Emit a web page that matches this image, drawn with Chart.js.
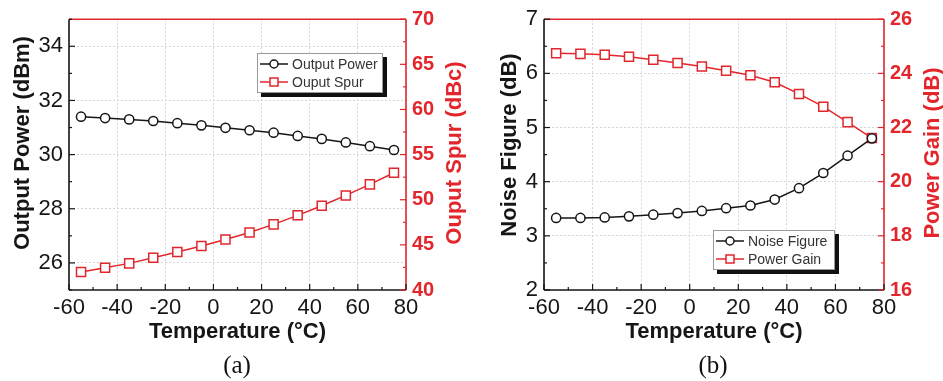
<!DOCTYPE html>
<html>
<head>
<meta charset="UTF-8">
<title>Temperature sweep</title>
<script src="https://cdn.jsdelivr.net/npm/chart.js"></script>
<style>
  body { margin: 0; background: #fff; width: 943px; height: 381px; position: relative; overflow: hidden;
         font-family: 'Liberation Sans', Arial, sans-serif; }
  canvas { position: absolute; top: 0; }
  #ca { left: 0; }
  #cb { left: 470px; }
  .cap { position: absolute; top: 352px; line-height: 1; font-size: 25px; color: #111;
         font-family: 'Liberation Serif', 'Times New Roman', serif; transform: translateX(-50%); }
  .legend { position: absolute; background: #fff; border: 1px solid #999; box-shadow: 4px 4px 0 #111;
            font-size: 14px; color: #333; box-sizing: border-box; padding: 1px 1px; white-space: nowrap; }
  .legend div { display: flex; align-items: center; height: 18px; }
  .legend svg { margin-right: 3px; flex: none; }
</style>
</head>
<body>

<canvas id="ca" width="470" height="381"></canvas>
<canvas id="cb" width="473" height="381"></canvas>
<div class="cap" style="left:237px">(a)</div>
<div class="cap" style="left:713px">(b)</div>
<div class="legend" id="lega" style="left:257px;top:53px;width:126px;height:40px"></div>
<div class="legend" id="legb" style="left:713px;top:230px;width:122px;height:40px"></div>

<script>
  // data
  const temps = [-55, -45, -35, -25, -15, -5, 5, 15, 25, 35, 45, 55, 65, 75];
  const outputPower = [31.40, 31.35, 31.30, 31.24, 31.16, 31.08, 30.99, 30.90, 30.81, 30.69, 30.58, 30.45, 30.31, 30.17];
  const outputSpur = [42.0, 42.47, 42.95, 43.58, 44.2, 44.87, 45.6, 46.38, 47.27, 48.27, 49.34, 50.48, 51.7, 52.99];
  const noiseFigure = [3.33, 3.33, 3.34, 3.36, 3.39, 3.42, 3.46, 3.51, 3.56, 3.67, 3.88, 4.16, 4.48, 4.80];
  const powerGain = [24.74, 24.72, 24.69, 24.61, 24.50, 24.38, 24.25, 24.10, 23.93, 23.67, 23.24, 22.77, 22.20, 21.61];
  const powerTicks = [26, 28, 30, 32, 34];

  const RED = '#e2262c';
  const INK = '#161616';
  const FONT = "'Liberation Sans', Arial, sans-serif";

  const pts = (ys) => temps.map((t, i) => ({ x: t, y: ys[i] }));

  // frame, inward tick marks and the vertical axis titles, drawn on top
  const framePlugin = {
    id: 'frame',
    afterDraw(chart, args, opts) {
      const { ctx, chartArea: a, scales } = chart;
      ctx.save();
      ctx.lineWidth = 1.6;
      const line = (x1, y1, x2, y2, c) => {
        ctx.strokeStyle = c; ctx.beginPath(); ctx.moveTo(x1, y1); ctx.lineTo(x2, y2); ctx.stroke();
      };
      line(a.left, a.top, a.right, a.top, RED);
      line(a.right, a.top, a.right, a.bottom, RED);
      line(a.left, a.top, a.left, a.bottom, INK);
      line(a.left, a.bottom, a.right, a.bottom, INK);

      ctx.lineWidth = 1.2;
      const marks = (s, draw) => {
        const t = s.ticks.map(k => k.value);
        const step = t[1] - t[0], h = step / 2;
        let v = t[0];
        while (v - h >= s.min - 1e-9) v -= h;
        for (; v <= s.max + 1e-9; v += h) {
          const q = (v - t[0]) / step;
          draw(s.getPixelForValue(v), Math.abs(q - Math.round(q)) < 1e-6 ? 6 : 3);
        }
      };
      marks(scales.x, (p, l) => line(p, a.bottom, p, a.bottom - l, INK));
      marks(scales.y, (p, l) => line(a.left, p, a.left + l, p, INK));
      marks(scales.y1, (p, l) => line(a.right, p, a.right - l, p, RED));

      ctx.font = 'bold 22px ' + FONT;
      ctx.textAlign = 'center';
      ctx.textBaseline = 'middle';
      for (const t of opts.titles) {
        ctx.save();
        ctx.translate(t.x, t.y);
        ctx.rotate(-Math.PI / 2);
        ctx.fillStyle = t.color;
        ctx.fillText(t.text, 0, 0);
        ctx.restore();
      }
      ctx.restore();
    }
  };

  function makeChart(id, o) {
    const tickFont = { family: FONT, size: 22 };
    const redTickFont = { family: FONT, size: 20, weight: 'bold' };
    const titleFont = { family: FONT, size: 22, weight: 'bold', lineHeight: 1 };
    return new Chart(document.getElementById(id), {
      type: 'line',
      data: {
        datasets: [
          { label: o.l1, data: pts(o.d1), yAxisID: 'y', borderColor: INK, borderWidth: 1.5,
            pointStyle: 'circle', pointRadius: 4.6, pointBorderWidth: 1.5, pointBackgroundColor: '#fff',
            pointBorderColor: INK },
          { label: o.l2, data: pts(o.d2), yAxisID: 'y1', borderColor: RED, borderWidth: 1.5,
            pointStyle: 'rect', pointRadius: 6.4, pointBorderWidth: 1.5, pointBackgroundColor: '#fff',
            pointBorderColor: RED }
        ]
      },
      options: {
        responsive: false,
        animation: false,
        layout: { padding: { top: o.top } },
        plugins: {
          legend: { display: false }, tooltip: { enabled: false },
          frame: { titles: o.titles }
        },
        scales: {
          x: {
            type: 'linear', min: -60, max: 80,
            ticks: { stepSize: 20, font: tickFont, color: INK, padding: 5, maxRotation: 0 },
            grid: { color: '#d6d6d6', drawTicks: false },
            border: { display: false, dash: [2, 2] },
            title: { display: true, text: 'Temperature (°C)', font: titleFont, color: INK, padding: { bottom: 38 } },
            afterFit(s) { s.height = 381 - o.bottom; }
          },
          y: {
            position: 'left', min: o.y[0], max: o.y[1],
            ticks: { stepSize: o.y[2], font: tickFont, color: INK, padding: 6 },
            grid: { color: '#d6d6d6', drawTicks: false },
            border: { display: false, dash: [2, 2] },
            afterBuildTicks(s) { if (o.yTicks) s.ticks = o.yTicks.map(v => ({ value: v })); },
            afterFit(s) { s.width = o.left; }
          },
          y1: {
            position: 'right', min: o.y1[0], max: o.y1[1],
            ticks: { stepSize: o.y1[2], font: redTickFont, color: RED, padding: 6 },
            grid: { display: false, drawTicks: false },
            border: { display: false },
            afterFit(s) { s.width = o.right; }
          }
        }
      },
      plugins: [framePlugin]
    });
  }

  makeChart('ca', {
    d1: outputPower, d2: outputSpur, l1: 'Output Power', l2: 'Ouput Spur',
    y: [25, 35, 2], y1: [40, 70, 5], yTicks: powerTicks,
    left: 69, right: 64, top: 19, bottom: 290,
    titles: [
      { text: 'Output Power (dBm)', x: 23, y: 143, color: INK },
      { text: 'Ouput Spur (dBc)', x: 455, y: 153, color: RED }
    ]
  });
  makeChart('cb', {
    d1: noiseFigure, d2: powerGain, l1: 'Noise Figure', l2: 'Power Gain',
    y: [2, 7, 1], y1: [16, 26, 2],
    left: 74, right: 59, top: 18, bottom: 290,
    titles: [
      { text: 'Noise Figure (dB)', x: 40, y: 145, color: INK },
      { text: 'Power Gain (dB)', x: 463, y: 153, color: RED }
    ]
  });

  function legend(id, rows) {
    document.getElementById(id).innerHTML = rows.map(([label, color, shape]) => {
      const mark = shape === 'circle'
        ? `<circle cx="15" cy="7" r="4" fill="#fff" stroke="${color}" stroke-width="1.5"/>`
        : `<rect x="11" y="3" width="8" height="8" fill="#fff" stroke="${color}" stroke-width="1.5"/>`;
      return `<div><svg width="30" height="14"><line x1="1" y1="7" x2="29" y2="7" stroke="${color}" stroke-width="1.5"/>${mark}</svg>${label}</div>`;
    }).join('');
  }
  legend('lega', [['Output Power', INK, 'circle'], ['Ouput Spur', RED, 'rect']]);
  legend('legb', [['Noise Figure', INK, 'circle'], ['Power Gain', RED, 'rect']]);
</script>
</body>
</html>
